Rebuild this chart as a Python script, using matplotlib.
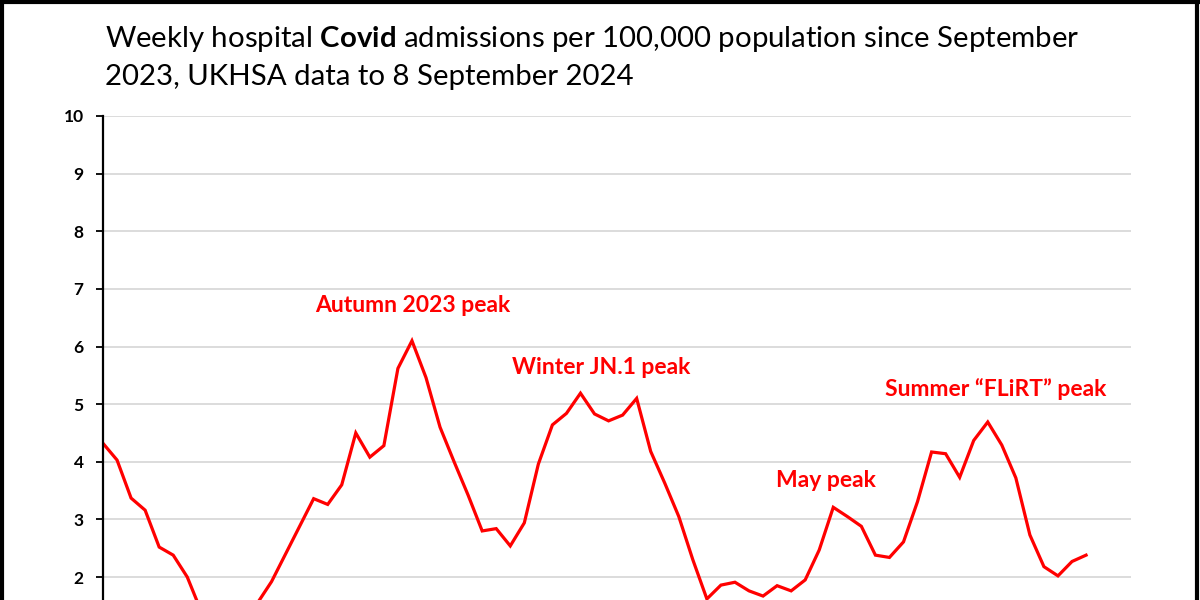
import numpy as np
import matplotlib
matplotlib.use("Agg")
import matplotlib.pyplot as plt
from matplotlib.lines import Line2D

# weekly admissions per 100,000 (low points below the crop are estimates)
admissions = [4.32, 4.03, 3.37, 3.16, 2.52, 2.38, 2.00, 1.40, 1.20, 1.15,
              1.25, 1.55, 1.92, 2.40, 2.88, 3.36, 3.26, 3.60, 4.50, 4.08,
              4.28, 5.62, 6.10, 5.46, 4.60, 4.00, 3.42, 2.80, 2.84, 2.54,
              2.94, 3.96, 4.64, 4.84, 5.19, 4.83, 4.71, 4.81, 5.10, 4.18,
              3.63, 3.05, 2.30, 1.62, 1.86, 1.91, 1.76, 1.67, 1.85, 1.76,
              1.95, 2.47, 3.21, 3.05, 2.88, 2.38, 2.34, 2.61, 3.31, 4.17,
              4.14, 3.73, 4.37, 4.69, 4.29, 3.72, 2.73, 2.18, 2.02, 2.27,
              2.38]
weeks = np.arange(len(admissions))

peak_labels = ["Autumn 2023 peak", "Winter JN.1 peak", "May peak", "Summer \u201cFLiRT\u201d peak"]
peak_x = [22.05, 35.5, 51.5, 63.56]
peak_y = [6.71, 5.63, 3.67, 5.27]

# only the ticks that fall inside the cropped picture
yticks = list(range(2, 11))
RED = "#ff0000"
FONT = "Lato"

plt.rcParams['font.family'] = [FONT, 'DejaVu Sans']
plt.rcParams['mathtext.fontset'] = 'custom'
plt.rcParams['mathtext.rm'] = FONT
plt.rcParams['mathtext.bf'] = FONT + ':bold'

fig = plt.figure(figsize=(12, 6), dpi=100)
fig.patch.set_facecolor("white")

# axes run off the bottom of the picture, as in the cropped original
ax = fig.add_axes([103/1200, 1 - 692.3/600, (1131-103)/1200, (692.3-116)/600])
ax.plot(weeks, admissions, color=RED, lw=2.3, solid_joinstyle='miter')
ax.set_xlim(0, 73.2)
ax.set_ylim(0, 10)
ax.set_yticks(yticks)
ax.set_yticklabels([str(t) for t in yticks], fontweight='bold', fontsize=12.5)
ax.set_xticks([])
ax.grid(axis='y', color='#d9d9d9', lw=1.3)
ax.set_axisbelow(True)
for s in ['top', 'right', 'bottom']:
    ax.spines[s].set_visible(False)
ax.spines['left'].set_linewidth(1.6)
ax.tick_params(axis='y', length=5, width=1.3, pad=9)

for lab, x, y in zip(peak_labels, peak_x, peak_y):
    ax.text(x, y, lab, color=RED, fontweight='bold', fontsize=16.5,
            ha='center', va='center')

fig.text(105/1200, 1 - 47/600,
         r"Weekly hospital $\mathbf{Covid}$ admissions per 100,000 population since September",
         fontsize=21.2, va='baseline', ha='left')
fig.text(105/1200, 1 - 85/600, "2023, UKHSA data to 8 September 2024",
         fontsize=21.2, va='baseline', ha='left')

# black frame (bottom edge is cropped away)
for xs, ys in [([0.0015, 0.0015], [0, 1]), ([0.9975, 0.9975], [0, 1]), ([0, 1], [0.997, 0.997])]:
    fig.add_artist(Line2D(xs, ys, color='black', lw=3, transform=fig.transFigure))

fig.savefig("out.png", dpi=100)
